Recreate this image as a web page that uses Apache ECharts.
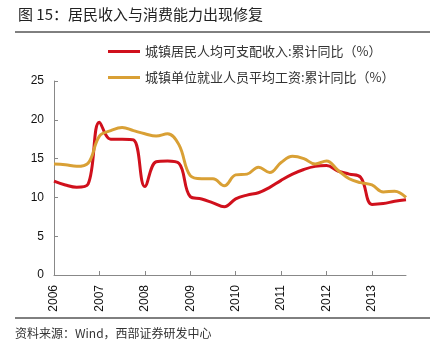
<!DOCTYPE html>
<html>
<head>
<meta charset="utf-8">
<script src="https://cdn.jsdelivr.net/npm/echarts@6/dist/echarts.min.js"></script>
<style>
html,body{margin:0;padding:0;background:#fff;}
#main{width:441px;height:357px;}
</style>
</head>
<body>
<div id="main"></div>
<script>
var quarters = [
 '2006-03','2006-06','2006-09','2006-12',
 '2007-03','2007-06','2007-09','2007-12',
 '2008-03','2008-06','2008-09','2008-12',
 '2009-03','2009-06','2009-09','2009-12',
 '2010-03','2010-06','2010-09','2010-12',
 '2011-03','2011-06','2011-09','2011-12',
 '2012-03','2012-06','2012-09','2012-12',
 '2013-03','2013-06','2013-09','2013-12'
];
var incomeName = '城镇居民人均可支配收入:累计同比（%）';
var wageName = '城镇单位就业人员平均工资:累计同比（%）';
var incomeYoY = [
 12.1, 11.6, 11.3, 11.7,
 19.7, 17.5, 17.5, 17.4,
 11.4, 14.6, 14.7, 14.4,
 10.1, 9.8, 9.3, 8.8,
 9.8, 10.3, 10.6, 11.3,
 12.2, 13.0, 13.6, 14.0,
 14.1, 13.4, 13.0, 12.6,
 9.1, 9.2, 9.5, 9.7
];
var wageYoY = [
 14.3, 14.2, 14.0, 14.4,
 17.9, 18.6, 19.0, 18.6,
 18.2, 17.9, 18.2, 16.8,
 12.8, 12.4, 12.4, 11.5,
 12.9, 13.0, 13.9, 13.2,
 14.5, 15.3, 15.0, 14.3,
 14.7, 13.5, 12.4, 11.9,
 11.6, 10.7, 10.8, 10.0
];
var titleText = '图 15：居民收入与消费能力出现修复';
var sourceText = '资料来源：Wind，西部证券研发中心';

var chart = echarts.init(document.getElementById('main'), null, {renderer:'canvas'});
var font = '"Liberation Sans", Arial, "Noto Sans CJK SC", sans-serif';
chart.setOption({
  animation: false,
  backgroundColor: '#fff',
  textStyle: {fontFamily: font},
  graphic: [
    {type:'text', left:18, top:7, style:{text:titleText, font:'15px "Noto Sans CJK SC", sans-serif', fill:'#222'}},
    {type:'line', shape:{x1:15, y1:32, x2:430, y2:32}, style:{stroke:'#000', lineWidth:1}},
    {type:'line', shape:{x1:15, y1:318, x2:430, y2:318}, style:{stroke:'#000', lineWidth:1}},
    {type:'text', left:15, top:327, style:{text:sourceText, font:'12px "Noto Sans CJK SC", sans-serif', fill:'#333'}}
  ],
  legend: {
    orient: 'vertical',
    left: 103,
    top: 40,
    itemWidth: 32,
    itemHeight: 3,
    itemGap: 13,
    icon: 'rect',
    textStyle: {fontSize: 13, color: '#333', fontFamily: '"Noto Sans CJK SC", sans-serif', padding:[0,0,0,0]},
    data: [incomeName, wageName]
  },
  grid: {left: 54, right: 35, top: 81, bottom: 82, containLabel: false},
  xAxis: {
    type: 'category',
    data: quarters,
    boundaryGap: false,
    axisLine: {lineStyle: {color: '#888', width: 1}},
    axisTick: {inside: true, length: 4, interval: 3, lineStyle: {color: '#888'}},
    axisLabel: {
      interval: 3, rotate: 90, margin: 10, fontSize: 12, color: '#111',
      formatter: function (v) { return v.slice(0, 4); }
    },
    splitLine: {show: false}
  },
  yAxis: {
    type: 'value',
    min: 0, max: 25, interval: 5,
    axisLine: {show: true, lineStyle: {color: '#888', width: 1}},
    axisTick: {show: true, inside: true, length: 4, lineStyle: {color: '#888'}},
    axisLabel: {fontSize: 12, color: '#111', margin: 10},
    splitLine: {show: false}
  },
  series: [
    {name: incomeName, type: 'line', data: incomeYoY, smooth: 0.4, symbol: 'none',
     lineStyle: {color: '#D0101C', width: 3}, itemStyle: {color: '#D0101C'}},
    {name: wageName, type: 'line', data: wageYoY, smooth: 0.4, symbol: 'none',
     lineStyle: {color: '#D9A035', width: 3}, itemStyle: {color: '#D9A035'}}
  ]
});
</script>
</body>
</html>
